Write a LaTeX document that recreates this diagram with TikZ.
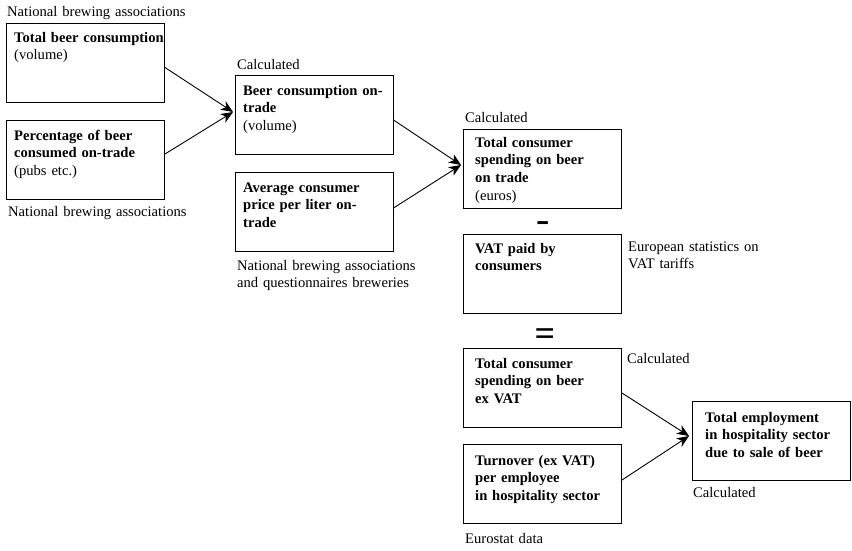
\documentclass[tikz,border=0pt]{standalone}
\usepackage{fontspec}
\setmainfont{Liberation Serif}
\usetikzlibrary{arrows.meta}
\begin{document}
\begin{tikzpicture}[x=1pt,y=-1pt,
  box/.style={draw, line width=1pt, minimum width=158pt, minimum height=79pt, inner sep=0pt},
  txt/.style={anchor=base west, inner sep=0pt, text width=200pt, align=left, font=\fontsize{14.6}{17.7}\selectfont},
  conn/.style={line width=0.9pt, -{Stealth[length=12pt,width=10pt,inset=3.5pt]}}]
\useasboundingbox (0,0) rectangle (852,550);
% boxes
\node[box] (b1) at (85.5,62.5) {};
\node[box] (b2) at (85.5,159.5) {};
\node[box] (b3) at (314,115) {};
\node[box] (b4) at (314,212) {};
\node[box] (b5) at (542.5,168.5) {};
\node[box] (b6) at (542.5,274) {};
\node[box] (b7) at (542.5,387.5) {};
\node[box] (b8) at (542.5,484) {};
\node[box] (b9) at (771,440.5) {};
% box texts
\node[txt] (t1) at (14,42) {\textbf{Total beer consumption}\\(volume)};
\node[txt] (t2) at (14,140) {\textbf{Percentage of beer}\\\textbf{consumed on-trade}\\(pubs etc.)};
\node[txt] (t3) at (243,95) {\textbf{Beer consumption on-}\\\textbf{trade}\\(volume)};
\node[txt] (t4) at (243,192) {\textbf{Average consumer}\\\textbf{price per liter on-}\\\textbf{trade}};
\node[txt] (t5) at (475,147) {\textbf{Total consumer}\\\textbf{spending on beer}\\\textbf{on trade}\\(euros)};
\node[txt] (t6) at (475,253) {\textbf{VAT paid by}\\\textbf{consumers}};
\node[txt] (t7) at (475,368) {\textbf{Total consumer}\\\textbf{spending on beer}\\\textbf{ex VAT}};
\node[txt] (t8) at (475,465) {\textbf{Turnover (ex VAT)}\\\textbf{per employee}\\\textbf{in hospitality sector}};
\node[txt] (t9) at (705,422) {\textbf{Total employment}\\\textbf{in hospitality sector}\\\textbf{due to sale of beer}};
% source labels
\node[txt] (l1) at (7,16) {National brewing associations};
\node[txt] (l2) at (8,216) {National brewing associations};
\node[txt] (l3) at (237,69) {Calculated};
\node[txt] (l4) at (237,270) {National brewing associations\\and questionnaires breweries};
\node[txt] (l5) at (465,122) {Calculated};
\node[txt] (l6) at (628,251) {European statistics on\\VAT tariffs};
\node[txt] (l7) at (627,363) {Calculated};
\node[txt] (l8) at (465,543) {Eurostat data};
\node[txt] (l9) at (693,497) {Calculated};
% operators
\node[inner sep=0pt, font=\fontsize{40}{40}\selectfont] (minus) at (543,227) {-};
\node[inner sep=0pt, font=\fontsize{36}{36}\selectfont\bfseries] (equals) at (545,337) {=};
% connectors
\coordinate (m1) at (233,112);
\coordinate (m2) at (461,165);
\coordinate (m3) at (689,436);
\draw[conn] ([yshift=-5pt]b1.east) -- (m1);
\draw[conn] ([yshift=5.5pt]b2.east) -- (m1);
\draw[conn] ([yshift=-5pt]b3.east) -- (m2);
\draw[conn] ([yshift=4pt]b4.east) -- (m2);
\draw[conn] ([yshift=-5.5pt]b7.east) -- (m3);
\draw[conn] ([yshift=4pt]b8.east) -- (m3);
\end{tikzpicture}
\end{document}
